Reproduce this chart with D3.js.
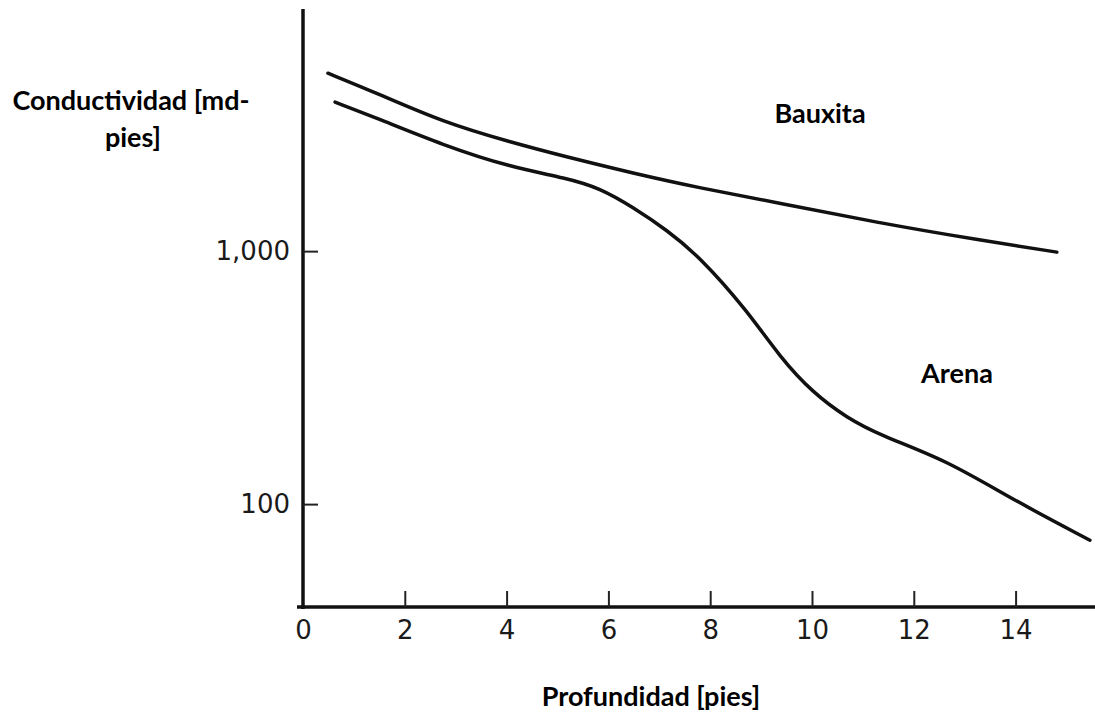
<!DOCTYPE html>
<html><head><meta charset="utf-8">
<script src="https://cdn.jsdelivr.net/npm/d3@7"></script>
<style>body{margin:0;background:#fff}svg{display:block}</style>
</head><body>
<svg id="chart" width="1095" height="714"></svg>
<script>
const xTicks = [0, 2, 4, 6, 8, 10, 12, 14];
const yTicks = [100, 1000];
const yTickLabels = ["100", "1,000"];
const bauxitaX = [0.49, 1.45, 2.75, 4.07, 5.19, 6.48, 7.80, 9.37, 11.33, 13.30, 14.81];
const bauxitaY = [5050, 4212, 3235, 2698, 2353, 2034, 1775, 1548, 1290, 1105, 991];
const arenaX = [0.63, 1.45, 2.75, 4.07, 5.19, 5.83, 6.48, 7.15, 7.80, 8.72, 9.37, 10.02, 10.69, 11.34, 12.65, 13.95, 15.46];
const arenaY = [3880, 3355, 2624, 2148, 1943, 1775, 1493, 1211, 947, 584, 381, 275, 219, 187, 149, 104, 72];

const svg = d3.select("#chart");
const x = d3.scaleLinear().domain([0, 15.56]).range([303, 1095]);
const y = d3.scaleLog().domain([39.2, 9060]).range([607, 9]);

const xAxis = d3.axisBottom(x).tickValues(xTicks).tickFormat(d3.format("d"))
  .tickSizeInner(-16).tickSizeOuter(0).tickPadding(14);
const gx = svg.append("g").attr("transform", "translate(0,607)").call(xAxis);
gx.select(".domain").attr("stroke", "#111").attr("stroke-width", 3.5).attr("d", "M297,0H1095");
gx.selectAll(".tick line").attr("stroke", "#222").attr("stroke-width", 2)
  .attr("opacity", d => d === 0 ? 0 : 1);
gx.selectAll(".tick text").attr("font-family", "DejaVu Sans").attr("font-size", 26).attr("fill", "#1a1a1a");

const yAxis = d3.axisLeft(y).tickValues(yTicks).tickFormat((d, i) => yTickLabels[i])
  .tickSizeInner(-15).tickSizeOuter(0).tickPadding(13);
const gy = svg.append("g").attr("transform", "translate(303,0)").call(yAxis);
gy.select(".domain").attr("stroke", "#111").attr("stroke-width", 3.5).attr("d", "M0,9V609");
gy.selectAll(".tick line").attr("stroke", "#222").attr("stroke-width", 2);
gy.selectAll(".tick text").attr("font-family", "DejaVu Sans").attr("font-size", 26).attr("fill", "#1a1a1a");

const line = d3.line().x(d => x(d[0])).y(d => y(d[1])).curve(d3.curveBasis);
svg.append("path").datum(bauxitaX.map((v, i) => [v, bauxitaY[i]]))
  .attr("d", line).attr("fill", "none").attr("stroke", "#111").attr("stroke-width", 3.5).attr("stroke-linecap", "round");
svg.append("path").datum(arenaX.map((v, i) => [v, arenaY[i]]))
  .attr("d", line).attr("fill", "none").attr("stroke", "#111").attr("stroke-width", 3.5).attr("stroke-linecap", "round");

const bold = sel => sel.attr("font-family", "Lato").attr("font-weight", "bold").attr("fill", "#000").attr("font-size", 27);
bold(svg.append("text").attr("x", 131).attr("y", 110).attr("text-anchor", "middle").text("Conductividad [md-"));
bold(svg.append("text").attr("x", 133).attr("y", 147).attr("text-anchor", "middle").text("pies]"));
bold(svg.append("text").attr("x", 820).attr("y", 123).attr("text-anchor", "middle").text("Bauxita"));
bold(svg.append("text").attr("x", 957).attr("y", 383).attr("text-anchor", "middle").text("Arena"));
bold(svg.append("text").attr("x", 651).attr("y", 706).attr("text-anchor", "middle").text("Profundidad [pies]"));
</script>
</body></html>
